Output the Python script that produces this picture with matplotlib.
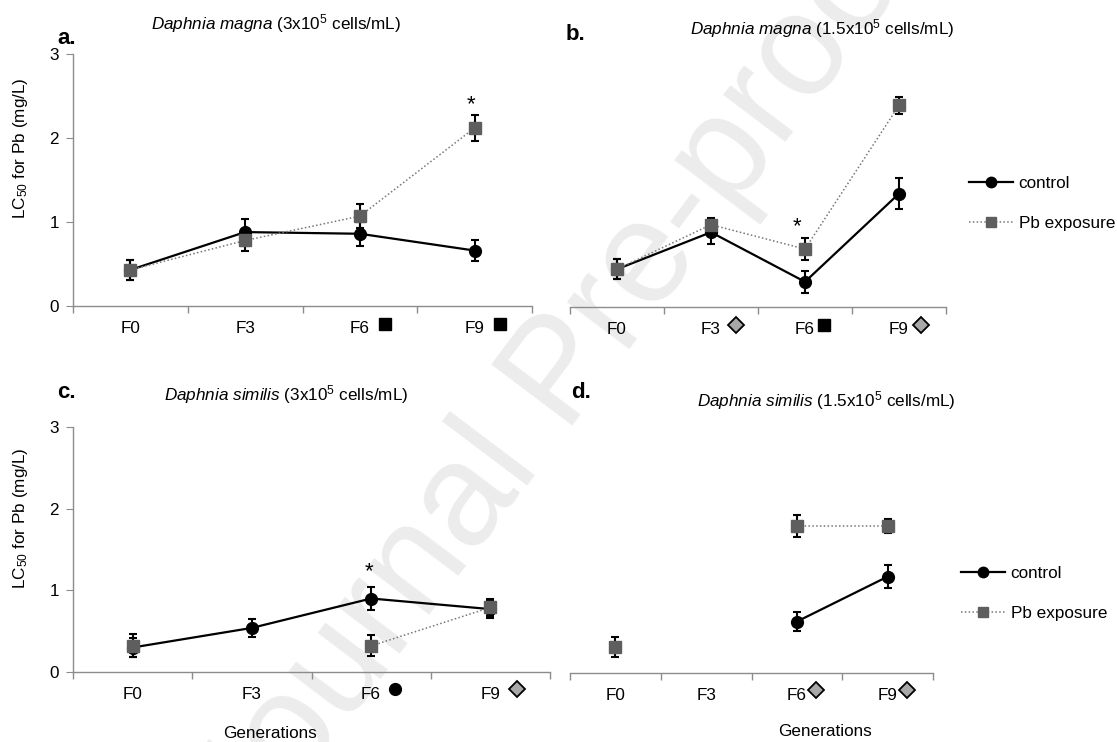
import numpy as np
import matplotlib
matplotlib.use("Agg")
import matplotlib.pyplot as plt
import matplotlib.transforms as mtransforms
from matplotlib.lines import Line2D

plt.rcParams['font.family'] = ['Liberation Sans', 'DejaVu Sans']
plt.rcParams['mathtext.fontset'] = 'custom'
plt.rcParams['mathtext.rm'] = 'Liberation Sans'
plt.rcParams['mathtext.it'] = 'Liberation Sans:italic'
plt.rcParams['mathtext.bf'] = 'Liberation Sans:bold'

generations = ["F0", "F3", "F6", "F9"]

# panel a: Daphnia magna (3x10^5 cells/mL)
a_control = [0.43, 0.88, 0.86, 0.66]
a_control_err = [0.12, 0.16, 0.14, 0.13]
a_pb = [0.43, 0.78, 1.07, 2.12]
a_pb_err = [0.12, 0.12, 0.14, 0.15]

# panel b: Daphnia magna (1.5x10^5 cells/mL)
b_control = [0.45, 0.89, 0.30, 1.35]
b_control_err = [0.12, 0.14, 0.13, 0.18]
b_pb = [0.45, 0.98, 0.69, 2.40]
b_pb_err = [0.12, 0.08, 0.13, 0.10]

# panel c: Daphnia similis (3x10^5 cells/mL)
c_control = [0.30, 0.54, 0.90, 0.77]
c_control_err = [0.12, 0.11, 0.14, 0.11]
c_pb = [0.32, np.nan, 0.32, 0.79]
c_pb_err = [0.14, np.nan, 0.13, 0.10]

# panel d: Daphnia similis (1.5x10^5 cells/mL)
d_control = [np.nan, np.nan, 0.63, 1.18]
d_control_err = [np.nan, np.nan, 0.12, 0.14]
d_pb = [0.32, np.nan, 1.80, 1.80]
d_pb_err = [0.12, np.nan, 0.13, 0.09]

W, H = 1117, 742
fig = plt.figure(figsize=(W / 100, H / 100), dpi=100)

def fx(px):
    return px / W

def fy(py):
    return 1 - py / H

def make_ax(left, right, top, bottom):
    return fig.add_axes([fx(left), fy(bottom), fx(right - left), (bottom - top) / H])

ax_a = make_ax(73, 532, 54, 306)
ax_b = make_ax(570, 946, 55, 307)
ax_c = make_ax(73, 550, 427, 672)
ax_d = make_ax(570, 933, 428, 673)

SPINE = '#8c8c8c'
PBCOL = '#5e5e5e'
FS = 12.3

def style(ax, show_y):
    x = np.arange(len(generations))
    ax.set_xlim(-0.5, len(generations) - 0.5)
    ax.set_ylim(0, 3)
    ax.set_xticks(x)
    ax.set_xticklabels(generations, fontsize=FS)
    ax.set_xticks(np.arange(len(generations) + 1) - 0.5, minor=True)
    ax.tick_params(axis='x', which='major', length=0, pad=11)
    ax.tick_params(axis='x', which='minor', length=5, direction='out', color=SPINE, width=1)
    for s in ['top', 'right']:
        ax.spines[s].set_visible(False)
    ax.spines['bottom'].set_color(SPINE)
    ax.spines['bottom'].set_linewidth(1)
    if show_y:
        ax.spines['left'].set_color(SPINE)
        ax.spines['left'].set_linewidth(1)
        ax.set_yticks([0, 1, 2, 3])
        ax.tick_params(axis='y', length=5, direction='out', color=SPINE, labelsize=FS, pad=5)
    else:
        ax.spines['left'].set_visible(False)
        ax.set_yticks([])
    ax.patch.set_alpha(0)

def draw(ax, ctrl, ctrl_err, pb, pb_err):
    x = np.arange(len(generations))
    ax.errorbar(x, ctrl, yerr=ctrl_err, color='black', lw=1.6, marker='o',
                markersize=8.5, markerfacecolor='black', markeredgecolor='black',
                ecolor='black', elinewidth=1.5, capsize=3, capthick=1.5, zorder=3)
    ax.errorbar(x, pb, yerr=pb_err, color='#777777', lw=1.1, ls=(0, (1, 1.5)), marker='s',
                markersize=8.5, markerfacecolor=PBCOL, markeredgecolor=PBCOL,
                ecolor='black', elinewidth=1.5, capsize=3, capthick=1.5, zorder=4)

for ax, show_y, data in [
    (ax_a, True, (a_control, a_control_err, a_pb, a_pb_err)),
    (ax_b, False, (b_control, b_control_err, b_pb, b_pb_err)),
    (ax_c, True, (c_control, c_control_err, c_pb, c_pb_err)),
    (ax_d, False, (d_control, d_control_err, d_pb, d_pb_err)),
]:
    style(ax, show_y)
    draw(ax, *data)

# y axis labels
for py in (148, 518):
    fig.text(fx(21), fy(py), "LC$_{50}$ for Pb (mg/L)", rotation=90, ha='center', va='center', fontsize=FS)

# significance stars
def star(ax, xi, yv, dy=10):
    ax.annotate('*', xy=(xi, yv), xytext=(0, dy), textcoords='offset points',
                ha='center', va='center', fontsize=16)

star(ax_a, 3 - 0.03, a_pb[3] + a_pb_err[3], 8)
star(ax_b, 2 - 0.08, b_pb[2] + b_pb_err[2], 8)
star(ax_c, 2 - 0.02, c_control[2] + c_control_err[2], 11)

# symbols next to generation labels
def sym(ax, xi, dx, kind):
    trans = mtransforms.blended_transform_factory(ax.transData, ax.transAxes)
    if kind == 'square':
        kw = dict(marker='s', markersize=8, markerfacecolor='black', markeredgecolor='black')
    elif kind == 'circle':
        kw = dict(marker='o', markersize=8.5, markerfacecolor='black', markeredgecolor='black')
    else:
        kw = dict(marker='D', markersize=7.8, markerfacecolor='#a8a8a8', markeredgecolor='black',
                  markeredgewidth=1.3)
    ax.plot([xi + dx], [-0.07], transform=trans, clip_on=False, ls='none', **kw)

sym(ax_a, 2, 0.22, 'square')
sym(ax_a, 3, 0.22, 'square')
sym(ax_b, 1, 0.27, 'diamond')
sym(ax_b, 2, 0.20, 'square')
sym(ax_b, 3, 0.23, 'diamond')
sym(ax_c, 2, 0.20, 'circle')
sym(ax_c, 3, 0.22, 'diamond')
sym(ax_d, 2, 0.21, 'diamond')
sym(ax_d, 3, 0.21, 'diamond')

# titles
fig.text(fx(276), fy(24), r"$\mathit{Daphnia\ magna}$ (3x10$^5$ cells/mL)", ha='center', va='center', fontsize=FS)
fig.text(fx(822), fy(29), r"$\mathit{Daphnia\ magna}$ (1.5x10$^5$ cells/mL)", ha='center', va='center', fontsize=FS)
fig.text(fx(286), fy(395), r"$\mathit{Daphnia\ similis}$ (3x10$^5$ cells/mL)", ha='center', va='center', fontsize=FS)
fig.text(fx(826), fy(401), r"$\mathit{Daphnia\ similis}$ (1.5x10$^5$ cells/mL)", ha='center', va='center', fontsize=FS)

# panel letters
for lab, px, py in [("a.", 57, 38), ("b.", 566, 35), ("c.", 57, 393), ("d.", 571, 392)]:
    fig.text(fx(px), fy(py), lab, ha='left', va='center', fontsize=16, fontweight='bold')

# x axis titles
fig.text(fx(270), fy(733), "Generations", ha='center', va='center', fontsize=FS)
fig.text(fx(825), fy(732), "Generations", ha='center', va='center', fontsize=FS)

# legends
handles = [
    Line2D([], [], color='black', lw=1.6, marker='o', markersize=7.5,
           markerfacecolor='black', markeredgecolor='black'),
    Line2D([], [], color='#777777', lw=1.1, ls=(0, (1, 1.5)), marker='s', markersize=7.5,
           markerfacecolor=PBCOL, markeredgecolor=PBCOL),
]
labels = ['control', 'Pb exposure']
for px, py in [(969, 203.5), (961, 593.5)]:
    fig.legend(handles, labels, loc='center left', bbox_to_anchor=(fx(px), fy(py)),
               bbox_transform=fig.transFigure, frameon=False, fontsize=FS,
               handlelength=2.55, handletextpad=0.35, labelspacing=1.45, borderpad=0,
               borderaxespad=0)

# watermark
fig.text(fx(562), fy(376), "Journal Pre-proof", rotation=53, ha='center', va='center',
         fontsize=105, color='#ececec', zorder=-10)

fig.savefig("out.png", dpi=100)
